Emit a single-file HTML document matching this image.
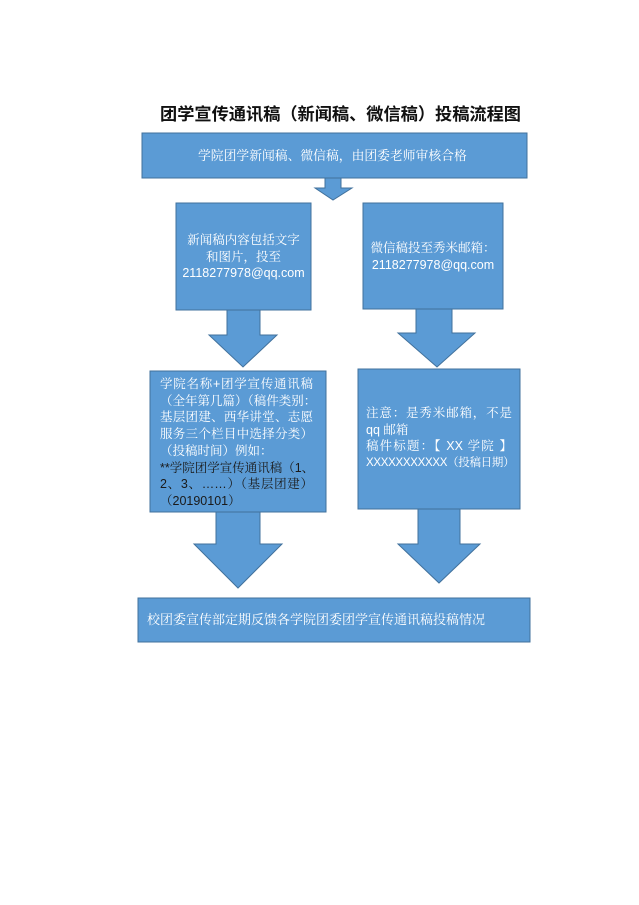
<!DOCTYPE html>
<html><head><meta charset="utf-8"><style>
body{margin:0;width:639px;height:905px;background:#fff;position:relative;overflow:hidden;font-family:"Liberation Sans","Noto Sans CJK SC",sans-serif;}
.t{position:absolute;color:#fff;font-size:12.5px;line-height:16.7px;white-space:nowrap;font-family:"Liberation Sans","Noto Serif CJK SC",serif;}
.j{text-align-last:justify;text-align:justify;}
.d{color:#1a1a1a;}
</style></head><body>
<div style="position:absolute;left:160px;top:100px;font-size:17.2px;font-weight:bold;color:#111;white-space:nowrap;font-family:'Liberation Sans','Noto Sans CJK SC',sans-serif;">团学宣传通讯稿（新闻稿、微信稿）投稿流程图</div>
<svg width="639" height="905" style="position:absolute;left:0;top:0">
<g fill="#5b9bd5" stroke="#41719c" stroke-width="1">
<rect x="142" y="133" width="385" height="45"/>
<polygon points="325,178 341,178 341,188 352,188 333,200 315,188 325,188"/>
<rect x="176" y="203" width="135" height="107"/>
<polygon points="227,310 260,310 260,335 277,335 243,367 209,335 227,335"/>
<rect x="363" y="203" width="140" height="106"/>
<polygon points="416,309 452,309 452,333 475,333 437,367 398,333 416,333"/>
<rect x="150" y="371" width="176" height="141"/>
<polygon points="216,512 260,512 260,544 282,544 238,588 194,544 216,544"/>
<rect x="358" y="369" width="162" height="140"/>
<polygon points="418,509 460,509 460,544 480,544 439,583 398,544 418,544"/>
<rect x="138" y="598" width="392" height="44"/>
</g></svg>
<div class="t" style="left:198px;top:148px;font-size:12.8px">学院团学新闻稿、微信稿，由团委老师审核合格</div>
<div class="t" style="left:176px;top:232px;width:135px;text-align:center">新闻稿内容包括文字<br>和图片，投至<br>2118277978@qq.com</div>
<div class="t" style="left:363px;top:240px;width:140px;text-align:center">微信稿投至秀米邮箱：<br>2118277978@qq.com</div>
<div class="t" style="left:160px;top:376px;width:153px">
<div class="j">学院名称+团学宣传通讯稿</div>
<div class="j">（全年第几篇）（稿件类别：</div>
<div class="j">基层团建、西华讲堂、志愿</div>
<div class="j">服务三个栏目中选择分类）</div>
<div>（投稿时间）例如：</div>
<div class="j d">**学院团学宣传通讯稿（1、</div>
<div class="j d">2、3、……）（基层团建）</div>
<div class="d">（20190101）</div>
</div>
<div class="t" style="left:366px;top:405px;width:146px">
<div class="j">注意：是秀米邮箱，不是</div>
<div>qq 邮箱</div>
<div class="j">稿件标题：【 XX 学院 】</div>
<div style="font-size:11.5px;letter-spacing:-0.3px">XXXXXXXXXXX（投稿日期）</div>
</div>
<div class="t" style="left:147px;top:612px;font-size:13px">校团委宣传部定期反馈各学院团委团学宣传通讯稿投稿情况</div>
</body></html>
